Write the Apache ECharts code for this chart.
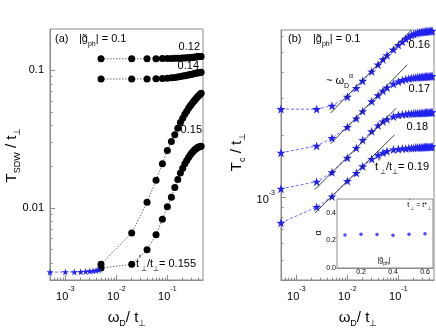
<!DOCTYPE html>
<html>
<head>
<meta charset="utf-8">
<script src="https://cdn.jsdelivr.net/npm/echarts@6/dist/echarts.min.js"></script>
<style>
  html, body { margin: 0; padding: 0; background: #fff; }
  #chart { width: 436px; height: 335px; }
</style>
</head>
<body>
<div id="chart"></div>
<script>
// panel (a): T_SDW vs omega_D
const xA = [0.005, 0.02, 0.04, 0.06, 0.08, 0.10, 0.12, 0.14, 0.16, 0.18, 0.20, 0.22,
            0.24, 0.26, 0.28, 0.30, 0.32, 0.34, 0.36, 0.38, 0.40, 0.42, 0.44, 0.46]
const tsdw012 = [0.1215, 0.1215, 0.1216, 0.1217, 0.1219, 0.1220, 0.1222, 0.1224, 0.1226, 0.1228, 0.1230, 0.1233,
                 0.1235, 0.1238, 0.1240, 0.1243, 0.1246, 0.1249, 0.1252, 0.1255, 0.1258, 0.1260, 0.1263, 0.1265]
const tsdw014 = [0.0866, 0.0866, 0.0868, 0.0870, 0.0873, 0.0878, 0.0884, 0.0890, 0.0897, 0.0904, 0.0910, 0.0916,
                 0.0922, 0.0928, 0.0933, 0.0938, 0.0943, 0.0948, 0.0952, 0.0956, 0.0960, 0.0963, 0.0966, 0.0968]
const tsdw015 = [0.0039, 0.0066, 0.0110, 0.0159, 0.0210, 0.0262, 0.0305, 0.0341, 0.0380, 0.0418, 0.0450, 0.0480,
                 0.0505, 0.0530, 0.0551, 0.0571, 0.0589, 0.0605, 0.0620, 0.0635, 0.0648, 0.0660, 0.0671, 0.0682]
const tsdw0155 = [0.00366, 0.0039, 0.00497, 0.0064, 0.0083, 0.0102, 0.0120, 0.0141, 0.0161, 0.0180, 0.0195, 0.0210,
                  0.0222, 0.0233, 0.0243, 0.0251, 0.0258, 0.0264, 0.0269, 0.0273, 0.0276, 0.0278, 0.0280, 0.0281]
// blue stars at small omega_D
const xStarA = [0.0005, 0.001, 0.0015, 0.002, 0.0025, 0.003, 0.0035, 0.004, 0.0045]
const yStarA = [0.00342, 0.00343, 0.00343, 0.00344, 0.00346, 0.00348, 0.0035, 0.00352, 0.00355]

// panel (b): Tc vs omega_D
const xB = [0.0005, 0.0025, 0.005, 0.01, 0.015, 0.02, 0.03, 0.04, 0.05, 0.06, 0.08, 0.10, 0.12, 0.14, 0.16,
            0.18, 0.20, 0.22, 0.24, 0.26, 0.28, 0.30, 0.32, 0.34, 0.36, 0.38, 0.40, 0.42, 0.44, 0.46]
const tc016 = [2.66e-3, 2.66e-3, 2.76e-3, 3.05e-3, 3.36e-3, 3.64e-3, 4.04e-3, 4.36e-3, 4.62e-3, 4.84e-3,
               5.15e-3, 5.42e-3, 5.62e-3, 5.80e-3, 5.93e-3, 6.03e-3, 6.10e-3, 6.16e-3, 6.20e-3, 6.23e-3,
               6.25e-3, 6.27e-3, 6.28e-3, 6.29e-3, 6.30e-3, 6.31e-3, 6.32e-3, 6.33e-3, 6.33e-3, 6.34e-3]
const tc017 = [1.64e-3, 1.77e-3, 1.93e-3, 2.18e-3, 2.40e-3, 2.60e-3, 2.90e-3, 3.10e-3, 3.26e-3, 3.38e-3,
               3.52e-3, 3.61e-3, 3.67e-3, 3.71e-3, 3.74e-3, 3.76e-3, 3.77e-3, 3.78e-3, 3.79e-3, 3.80e-3,
               3.80e-3, 3.81e-3, 3.81e-3, 3.82e-3, 3.82e-3, 3.82e-3, 3.83e-3, 3.83e-3, 3.83e-3, 3.84e-3]
const tc018 = [1.10e-3, 1.19e-3, 1.32e-3, 1.55e-3, 1.73e-3, 1.89e-3, 2.08e-3, 2.22e-3, 2.32e-3, 2.38e-3,
               2.45e-3, 2.49e-3, 2.51e-3, 2.52e-3, 2.53e-3, 2.53e-3, 2.54e-3, 2.54e-3, 2.54e-3, 2.55e-3,
               2.55e-3, 2.55e-3, 2.55e-3, 2.56e-3, 2.56e-3, 2.56e-3, 2.56e-3, 2.56e-3, 2.57e-3, 2.57e-3]
const tc019 = [0.754e-3, 0.899e-3, 1.01e-3, 1.20e-3, 1.31e-3, 1.41e-3, 1.53e-3, 1.60e-3, 1.64e-3, 1.67e-3,
               1.70e-3, 1.71e-3, 1.72e-3, 1.72e-3, 1.73e-3, 1.73e-3, 1.73e-3, 1.74e-3, 1.74e-3, 1.74e-3,
               1.74e-3, 1.74e-3, 1.75e-3, 1.75e-3, 1.75e-3, 1.75e-3, 1.75e-3, 1.75e-3, 1.75e-3, 1.76e-3]
// power law guide lines ~ omega_D^alpha (end points)
const fit016x = [0.0047, 0.18],  fit016y = [2.55e-3, 6.4e-3]
const fit017x = [0.0047, 0.149], fit017y = [1.81e-3, 4.35e-3]
const fit018x = [0.0023, 0.091], fit018y = [1.09e-3, 2.69e-3]
const fit019x = [0.0023, 0.084], fit019y = [0.84e-3, 2.0e-3]

// inset: alpha vs |g_ph|
const gph = [0.1, 0.2, 0.3, 0.4, 0.5, 0.6]
const alpha = [0.240, 0.245, 0.243, 0.238, 0.244, 0.248]

// tick values
const xMajor = [0.001, 0.01, 0.1]
const xMinor = [0.0006, 0.0007, 0.0008, 0.0009, 0.002, 0.003, 0.004, 0.005, 0.006, 0.007, 0.008, 0.009,
                0.02, 0.03, 0.04, 0.05, 0.06, 0.07, 0.08, 0.09, 0.2, 0.3, 0.4]
const yMajorA = [0.01, 0.1]
const yMinorA = [0.004, 0.005, 0.006, 0.007, 0.008, 0.009, 0.02, 0.03, 0.04, 0.05, 0.06, 0.07, 0.08, 0.09]
const yMajorB = [0.001]
const yMinorB = [0.0005, 0.0006, 0.0007, 0.0008, 0.0009, 0.002, 0.003, 0.004, 0.005, 0.006]
const insetXTicks = [0.2, 0.4, 0.6]
const insetXMinor = [0.1, 0.3, 0.5]
const insetYTicks = [0, 0.2, 0.4]

const FONT = 'Liberation Sans, Arial, sans-serif'
const AXIS_GREY = '#8a8a8a'
const BLUE = '#2222ee'
const STAR = 'path://M50,0 L61.8,35.1 L98.9,35.1 L69.1,56.7 L80.9,91.9 L50,70.2 L19.1,91.9 L30.9,56.7 L1.1,35.1 L38.2,35.1 Z'

function zip(xs, ys) {
  return xs.map((x, i) => [x, ys[i]])
}

function powLabel(v) {
  const e = Math.round(Math.log10(v))
  return '{b|10}{e|' + e + '}'
}

const powRich = {
  b: { fontSize: 11, fontFamily: FONT, color: '#000', lineHeight: 16, verticalAlign: 'bottom' },
  e: { fontSize: 7, fontFamily: FONT, color: '#000', lineHeight: 8, verticalAlign: 'top' }
}

function majorAxis(gridIndex, type, min, max, ticks, labelOpt) {
  return {
    type: type, gridIndex: gridIndex, min: min, max: max,
    axisLine: { show: true, lineStyle: { color: AXIS_GREY, width: 1 } },
    axisTick: { show: true, inside: true, length: 5, customValues: ticks, lineStyle: { color: AXIS_GREY } },
    axisLabel: Object.assign({ show: true, customValues: ticks, margin: 6, color: '#000', fontFamily: FONT, fontSize: 11 }, labelOpt || {}),
    splitLine: { show: false },
    minorTick: { show: false }
  }
}

function minorAxis(gridIndex, type, min, max, ticks, len) {
  return {
    type: type, gridIndex: gridIndex, min: min, max: max,
    axisLine: { show: false },
    axisTick: { show: true, inside: true, length: len || 2.5, customValues: ticks, lineStyle: { color: AXIS_GREY } },
    axisLabel: { show: false },
    splitLine: { show: false }
  }
}

const xAxes = [
  Object.assign(majorAxis(0, 'log', 0.0005, 0.5, xMajor, { formatter: powLabel, rich: powRich }), { position: 'bottom' }),
  Object.assign(minorAxis(0, 'log', 0.0005, 0.5, xMinor), { position: 'bottom' }),
  Object.assign(majorAxis(1, 'log', 0.0005, 0.5, xMajor, { formatter: powLabel, rich: powRich }), { position: 'bottom' }),
  Object.assign(minorAxis(1, 'log', 0.0005, 0.5, xMinor), { position: 'bottom' }),
  Object.assign(majorAxis(2, 'value', 0.05, 0.65, insetXTicks, { fontSize: 7, margin: 1, formatter: v => v.toFixed(1) }),
    { position: 'bottom', axisTick: { show: true, inside: true, length: 3, customValues: insetXTicks, lineStyle: { color: AXIS_GREY } } }),
  Object.assign(minorAxis(2, 'value', 0.05, 0.65, insetXMinor, 1.8), { position: 'bottom' })
]

const yAxes = [
  Object.assign(majorAxis(0, 'log', 0.003, 0.2, yMajorA, { formatter: v => (v >= 0.1 ? '0.1' : '0.01') }), { position: 'left' }),
  Object.assign(minorAxis(0, 'log', 0.003, 0.2, yMinorA), { position: 'left' }),
  Object.assign(majorAxis(1, 'log', 0.0004, 0.0064, yMajorB, { formatter: powLabel, rich: powRich }), { position: 'left' }),
  Object.assign(minorAxis(1, 'log', 0.0004, 0.0064, yMinorB), { position: 'left' }),
  Object.assign(majorAxis(2, 'value', 0, 0.5, insetYTicks, { fontSize: 7, margin: 1, formatter: v => v.toFixed(1) }),
    { position: 'left', axisTick: { show: true, inside: true, length: 3, customValues: insetYTicks, lineStyle: { color: AXIS_GREY } } })
]

function dotSeries(ys) {
  return {
    type: 'line', xAxisIndex: 0, yAxisIndex: 0, data: zip(xA, ys),
    symbol: 'circle', symbolSize: 7, itemStyle: { color: '#000' },
    lineStyle: { color: '#444', width: 0.8, type: [1.5, 1.5] },
    clip: false, animation: false, z: 3
  }
}

function starSeries(xs, ys, xi, yi, size) {
  return {
    type: 'line', xAxisIndex: xi, yAxisIndex: yi, data: zip(xs, ys),
    symbol: STAR, symbolSize: size, itemStyle: { color: BLUE },
    lineStyle: { color: '#6b6bff', width: 1, type: [3, 2] },
    clip: false, animation: false, z: 3
  }
}

function fitSeries(xs, ys) {
  return {
    type: 'line', xAxisIndex: 2, yAxisIndex: 2, data: zip(xs, ys),
    symbol: 'none', lineStyle: { color: '#111', width: 0.8 },
    animation: false, z: 4
  }
}

const series = [
  dotSeries(tsdw012),
  dotSeries(tsdw014),
  dotSeries(tsdw015),
  dotSeries(tsdw0155),
  starSeries(xStarA, yStarA, 0, 0, 7),
  fitSeries(fit016x, fit016y),
  fitSeries(fit017x, fit017y),
  fitSeries(fit018x, fit018y),
  fitSeries(fit019x, fit019y),
  starSeries(xB, tc016, 2, 2, 9),
  starSeries(xB, tc017, 2, 2, 9),
  starSeries(xB, tc018, 2, 2, 9),
  starSeries(xB, tc019, 2, 2, 9),
  {
    type: 'scatter', xAxisIndex: 4, yAxisIndex: 4, data: zip(gph, alpha),
    symbol: 'circle', symbolSize: 3.5, itemStyle: { color: BLUE }, animation: false, z: 6
  }
]

// text helpers
const base = { fontFamily: FONT, fill: '#000' }
function richText(x, y, text, rich, opts) {
  return Object.assign({
    type: 'text', x: x, y: y, z: 100,
    style: Object.assign({ text: text, rich: rich, verticalAlign: 'middle', align: 'left' }, base, (opts && opts.style) || {})
  }, (opts && opts.el) || {})
}

// sub/superscripts: small line boxes pinned to the bottom/top of the line
function mkRich(n, s) {
  return {
    n: { fontSize: n, fontFamily: FONT, color: '#000', lineHeight: n + 6, verticalAlign: 'middle' },
    sub: { fontSize: s, fontFamily: FONT, color: '#000', lineHeight: s + 1, verticalAlign: 'bottom' },
    sup: { fontSize: s, fontFamily: FONT, color: '#000', lineHeight: s + 1, verticalAlign: 'top' },
    pr: { fontSize: n - 1, fontFamily: FONT, color: '#000', lineHeight: n - 2, verticalAlign: 'top' }
  }
}
const r11 = mkRich(11, 7)
const r15 = mkRich(15, 9)
const r7 = mkRich(7, 5)
const r9 = mkRich(9, 6)

const gText = '{n||g\u0303}{sub|ph}{n|| = 0.1}'
const tText = v => '{n|t}{pr|\'}{sub|\u22a5}{n|/t}{sub|\u22a5}{n|= ' + v + '}'

const graphics = [
  // panel (a)
  richText(55, 39, '{n|(a)}', r11),
  richText(79, 39, gText, r11),
  richText(200, 47, '{n|0.12}', r11, { style: { align: 'right' } }),
  richText(199, 66, '{n|0.14}', r11, { style: { align: 'right' } }),
  richText(202, 130, '{n|0.15}', r11, { style: { align: 'right' } }),
  richText(196, 264, tText('0.155'), r11, { style: { align: 'right' } }),
  richText(12, 155, '{n|T}{sub|SDW}{n| / t}{sub|\u22a5}', r15, { style: { align: 'center' }, el: { rotation: Math.PI / 2 } }),
  richText(127, 318, '{n|\u03c9}{sub|D}{n|/ t}{sub|\u22a5}', r15, { style: { align: 'center' } }),
  // panel (b)
  richText(288, 39, '{n|(b)}', r11),
  richText(313, 39, gText, r11),
  richText(430, 45, '{n|0.16}', r11, { style: { align: 'right' } }),
  richText(430, 89, '{n|0.17}', r11, { style: { align: 'right' } }),
  richText(428, 127, '{n|0.18}', r11, { style: { align: 'right' } }),
  richText(429, 167, tText('0.19'), r11, { style: { align: 'right' } }),
  richText(326, 81, '{n|~ \u03c9}{sub|D}{sup|\u03b1}', r11),
  richText(237, 152, '{n|T}{sub|c}{n| / t}{sub|\u22a5}', r15, { style: { align: 'center' }, el: { rotation: Math.PI / 2 } }),
  richText(358, 318, '{n|\u03c9}{sub|D}{n|/ t}{sub|\u22a5}', r15, { style: { align: 'center' } }),
  // inset
  richText(431, 205, '{n|t}{pr|\'}{sub|\u22a5}{n| = t*}{sub|\u22a5}', r7, { style: { align: 'right' } }),
  richText(384, 260, '{n||g\u0303}{sub|ph}{n||}', r7, { style: { align: 'center' } }),
  richText(319, 233, '{n|\u03b1}', r9, { style: { align: 'center' }, el: { rotation: Math.PI / 2 } })
]

const chart = echarts.init(document.getElementById('chart'), null, { renderer: 'canvas' })
chart.setOption({
  animation: false,
  backgroundColor: '#fff',
  textStyle: { fontFamily: FONT },
  grid: [
    { left: 50, top: 29, width: 153, height: 251, show: true, borderColor: AXIS_GREY, borderWidth: 1, containLabel: false, outerBoundsMode: 'none' },
    { left: 281, top: 30, width: 153, height: 250, show: true, borderColor: AXIS_GREY, borderWidth: 1, containLabel: false, outerBoundsMode: 'none' },
    { left: 337, top: 199, width: 96, height: 69, show: true, backgroundColor: '#fff', borderColor: AXIS_GREY, borderWidth: 1, containLabel: false, outerBoundsMode: 'none', z: 5 }
  ],
  xAxis: xAxes,
  yAxis: yAxes,
  series: series,
  graphic: graphics
})
</script>
</body>
</html>
